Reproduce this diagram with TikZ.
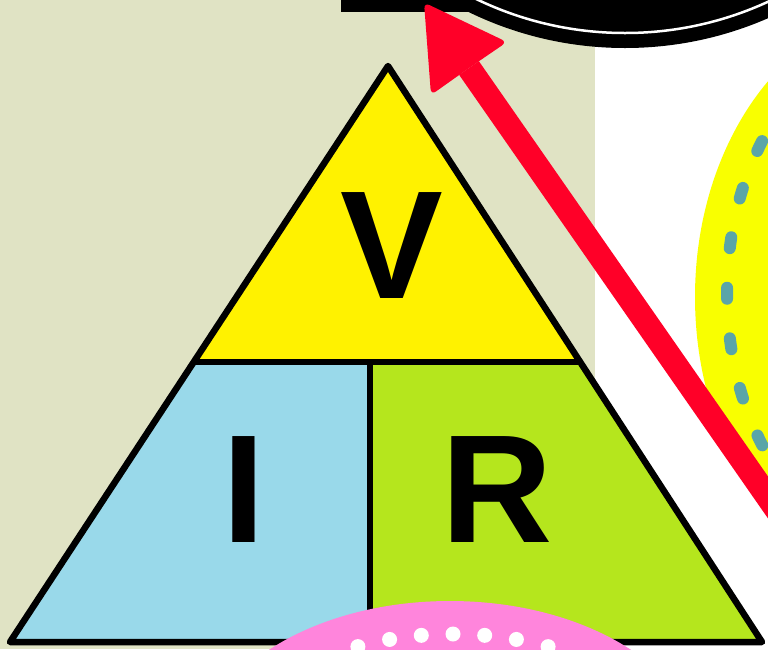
\documentclass[tikz,border=0pt]{standalone}
\usepackage{fontspec}
\setmainfont{Liberation Sans}
\usetikzlibrary{calc}
\definecolor{Sand}{HTML}{E0E3C4}
\definecolor{Lemon}{HTML}{FFF200}
\definecolor{Sky}{HTML}{99D9EA}
\definecolor{Lime}{HTML}{B5E61D}
\definecolor{Canary}{HTML}{F9FF00}
\definecolor{Teal}{HTML}{5AA5A8}
\definecolor{Signal}{HTML}{FF0028}
\definecolor{Rose}{HTML}{FF85DC}

\begin{document}
\begin{tikzpicture}[x=1pt,y=-1pt,
  letter/.style={inner sep=0pt,font=\fontsize{154}{154}\selectfont\bfseries},
  edge/.style={line width=6.5pt,line join=round}]
\path[use as bounding box] (0,0) rectangle (768,649);
\clip (0,0) rectangle (768,649);
\fill[white] (0,0) rectangle (768,649);
\fill[Sand] (0,0) rectangle (595,649);

% black cap at the top
\fill[black] (341,0) rectangle (470,12);
\fill[black] (625,-309) circle (357);
\draw[white,line width=2.5pt] (625,-309) circle (342);

% triangle
\coordinate (apex) at (388,66);
\coordinate (botleft) at (10,642);
\coordinate (botright) at (762,642);
\coordinate (midleft) at ($(apex)!0.514!(botleft)$);
\coordinate (midright) at ($(apex)!0.514!(botright)$);
\coordinate (divtop) at (370,362);
\coordinate (divbot) at (370,642);
\fill[Lemon] (apex) -- (midleft) -- (midright) -- cycle;
\fill[Sky] (midleft) -- (divtop) -- (divbot) -- (botleft) -- cycle;
\fill[Lime] (divtop) -- (midright) -- (botright) -- (divbot) -- cycle;
\draw[edge] (apex) -- (botleft) -- (botright) -- cycle;
\draw[edge] (midleft) -- (midright) (divtop) -- (divbot);
\node[letter] (volt) at (392,246) {V};
\node[letter] (amp) at (244,490) {I};
\node[letter] (ohm) at (497,490) {R};

% yellow disc with dashed ring
\fill[Canary] (915,297) ellipse [x radius=220,y radius=290];
\draw[Teal,line width=12pt,line cap=round,dash pattern=on 11pt off 39.7pt,dash phase=5.5pt]
  (915,293) ellipse [x radius=188,y radius=261];

% red arrow
\coordinate (tail) at (790,529);
\coordinate (base) at (469,68);
\coordinate (tip) at (424,2.5);
\coordinate (barbA) at (507,42);
\coordinate (barbB) at (431,95);
\draw[Signal,line width=24pt] (tail) -- (base);
\fill[Signal,rounded corners=6pt] (base) -- (barbA) -- (tip) -- (barbB) -- cycle;

% pink blob with dots
\fill[Rose] (450,760) ellipse [x radius=251,y radius=159];
\foreach \i in {-3,...,3}
  \fill[white] ({453+31.7*\i},{760-126*sqrt(1-(31.7*\i/218)^2)}) circle (7.5);
\end{tikzpicture}
\end{document}
